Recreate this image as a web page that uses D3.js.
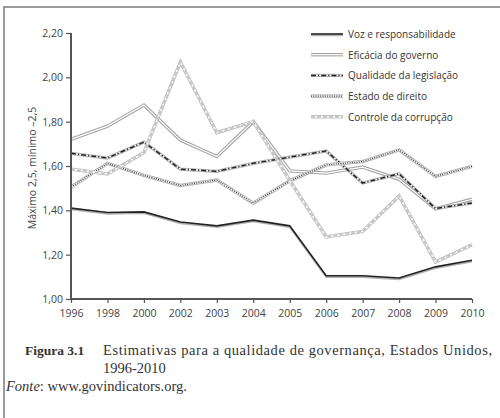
<!DOCTYPE html>
<html>
<head>
<meta charset="utf-8">
<script src="https://cdn.jsdelivr.net/npm/d3@7"></script>
<style>
  body { margin: 0; background: #fff; }
  svg { display: block; }
</style>
</head>
<body>
<svg id="chart" width="500" height="418"></svg>
<script>
// data
var years = ["1996", "1998", "2000", "2002", "2003", "2004", "2005", "2006", "2007", "2008", "2009", "2010"];
var voz = [1.41, 1.39, 1.393, 1.347, 1.33, 1.356, 1.33, 1.105, 1.105, 1.095, 1.145, 1.175];
var eficacia = [1.72, 1.78, 1.875, 1.717, 1.643, 1.80, 1.578, 1.568, 1.595, 1.54, 1.407, 1.45];
var qualidade = [1.657, 1.636, 1.708, 1.586, 1.576, 1.612, 1.64, 1.668, 1.523, 1.565, 1.408, 1.433];
var estado = [1.505, 1.612, 1.558, 1.512, 1.537, 1.432, 1.533, 1.605, 1.62, 1.673, 1.553, 1.598];
var controle = [1.586, 1.564, 1.66, 2.069, 1.75, 1.80, 1.535, 1.28, 1.305, 1.465, 1.167, 1.245];
var seriesNames = ["Voz e responsabilidade", "Eficácia do governo", "Qualidade da legislação", "Estado de direito", "Controle da corrupção"];
var yTicks = [1.0, 1.2, 1.4, 1.6, 1.8, 2.0, 2.2];

var series = [voz, eficacia, qualidade, estado, controle];

// stroke layers for each series (drawn bottom to top)
var styles = [
    [{c: "#b0b0b0", w: 1.6, dy: 1.4}, {c: "#222", w: 1.6}],
    [{c: "#a4a4a4", w: 3.4}, {c: "#ffffff", w: 1.2}],
    [{c: "#b4b4b4", w: 3.2}, {c: "#ffffff", w: 1.1}, {c: "#222", w: 1.5, dash: "5,2,1.2,2"}],
    [{c: "#b0b0b0", w: 3.4}, {c: "#ffffff", w: 1.6}, {c: "#333", w: 1.2, dash: "1,1.3"}],
    [{c: "#b8b8b8", w: 3.4}, {c: "#ffffff", w: 1.8}, {c: "#c4c4c4", w: 1.8, dash: "4,2"}]
];

var svg = d3.select("#chart");
var font = "'Open Sans', 'Noto Sans', sans-serif";

// outer frame
svg.append("path")
    .attr("d", "M4,418 L4,7 L500,7")
    .attr("fill", "none")
    .attr("stroke", "#7a7a7a")
    .attr("stroke-width", 1.5);

var x = d3.scalePoint()
    .domain(years)
    .range([71, 472]);

var y = d3.scaleLinear()
    .domain([1.0, 2.2])
    .range([299, 33]);

// series lines
var g = svg.append("g");
series.forEach(function (vals, i) {
    styles[i].forEach(function (s) {
        var line = d3.line()
            .x(function (d, j) { return x(years[j]); })
            .y(function (d) { return y(d) + (s.dy || 0); });
        g.append("path")
            .datum(vals)
            .attr("d", line)
            .attr("fill", "none")
            .attr("stroke", s.c)
            .attr("stroke-width", s.w)
            .attr("stroke-dasharray", s.dash || null)
            .attr("stroke-linejoin", "miter");
    });
});

// axes
var yAxis = d3.axisLeft(y)
    .tickValues(yTicks)
    .tickSize(5)
    .tickPadding(3)
    .tickFormat(function (d) { return d3.format(".2f")(d).replace(".", ","); });

var yg = svg.append("g")
    .attr("transform", "translate(71,0)")
    .call(yAxis);

var xAxis = d3.axisBottom(x)
    .tickSize(4)
    .tickPadding(7);

var xg = svg.append("g")
    .attr("transform", "translate(0,299)")
    .call(xAxis);

[yg, xg].forEach(function (a) {
    a.select(".domain").attr("stroke", "#555").attr("stroke-width", 2);
    a.selectAll(".tick line").attr("stroke", "#555").attr("stroke-width", 1.2);
    a.selectAll(".tick text")
        .attr("fill", "#444")
        .style("font-family", font)
        .style("font-size", "10.5px");
});
yg.select(".domain").attr("d", "M0,33V299");
xg.select(".domain").attr("d", "M71,0H472");

// y title
svg.append("text")
    .attr("transform", "translate(36,168) rotate(-90)")
    .attr("text-anchor", "middle")
    .attr("fill", "#444")
    .style("font-family", font)
    .style("font-size", "10.5px")
    .text("Máximo 2,5, mínimo –2,5");

// legend
var legend = svg.append("g");
seriesNames.forEach(function (name, i) {
    var ly = 34 + i * 20.7;
    styles[i].forEach(function (s) {
        legend.append("line")
            .attr("x1", 311).attr("x2", 343)
            .attr("y1", ly + (s.dy || 0)).attr("y2", ly + (s.dy || 0))
            .attr("stroke", s.c)
            .attr("stroke-width", s.w)
            .attr("stroke-dasharray", s.dash || null);
    });
    legend.append("text")
        .attr("x", 348)
        .attr("y", ly + 4)
        .attr("fill", "#333")
        .style("font-family", font)
        .style("font-size", "10px")
        .text(name);
});

// caption
var serif = "'Liberation Serif', 'DejaVu Serif', serif";
var cap = svg.append("g")
    .style("font-family", serif)
    .style("font-size", "14.5px")
    .attr("fill", "#333");

cap.append("text").attr("x", 25).attr("y", 355)
    .style("font-size", "13.5px")
    .style("font-weight", "bold").text("Figura 3.1");
cap.append("text").attr("x", 103).attr("y", 355)
    .attr("textLength", 389)
    .text("Estimativas para a qualidade de governança, Estados Unidos,");
cap.append("text").attr("x", 103).attr("y", 373).text("1996-2010");
var src = cap.append("text").attr("x", 6).attr("y", 391);
src.append("tspan").style("font-style", "italic").text("Fonte");
src.append("tspan").text(": www.govindicators.org.");
</script>
</body>
</html>
